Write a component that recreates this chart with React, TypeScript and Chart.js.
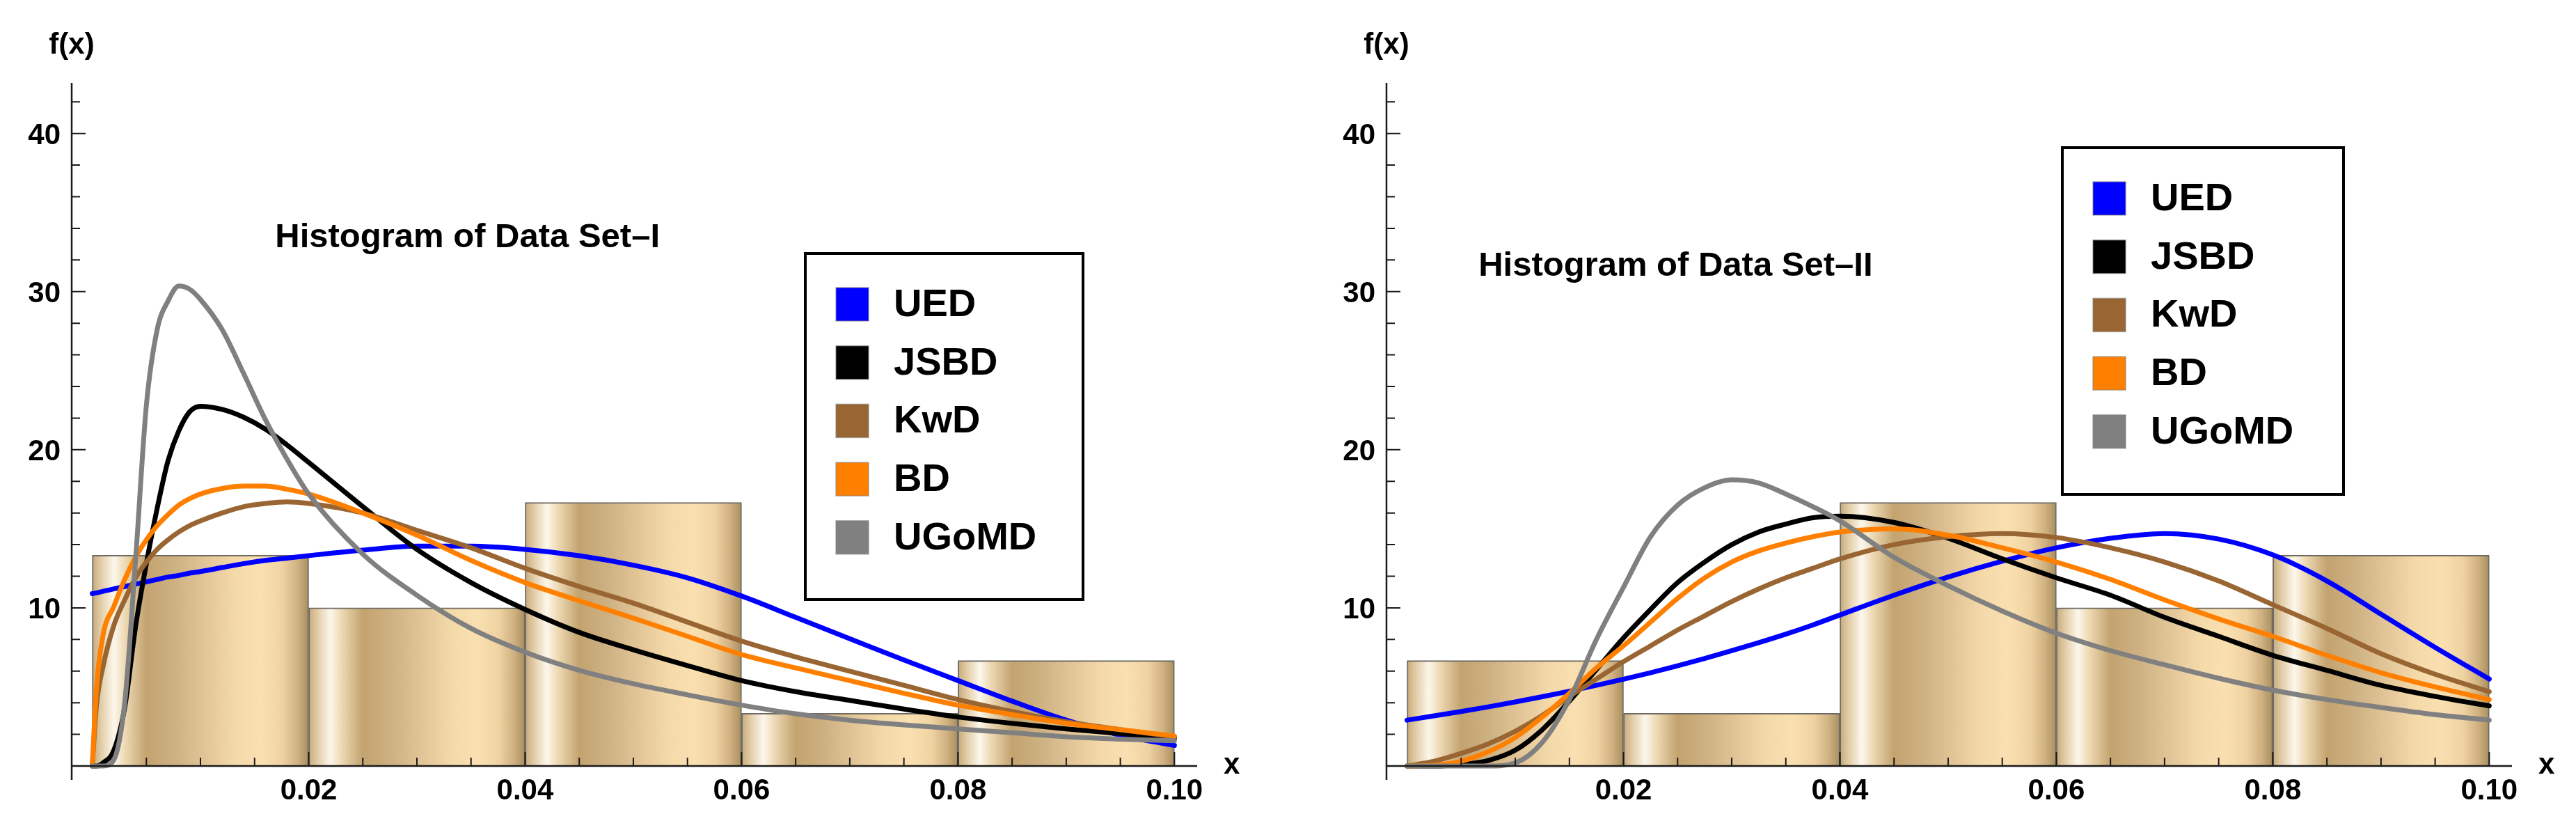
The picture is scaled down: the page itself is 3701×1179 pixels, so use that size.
import { useEffect, useRef } from "react"
import { Chart, registerables } from "chart.js"

Chart.register(...registerables)

// histogram bins (same edges for both data sets)
const binEdges = [0, 0.02, 0.04, 0.06, 0.08, 0.1]
const histHeights1 = [13.33, 10, 16.67, 3.33, 6.67]
const histHeights2 = [6.67, 3.33, 16.67, 10, 13.33]

// fitted densities, Data Set-I
const xs1 = [0, 0.0004, 0.001, 0.002, 0.003, 0.004, 0.005, 0.006, 0.007, 0.008, 0.009, 0.01, 0.012, 0.014, 0.016, 0.018, 0.02, 0.025, 0.03, 0.035, 0.04, 0.045, 0.05, 0.055, 0.06, 0.065, 0.07, 0.075, 0.08, 0.085, 0.09, 0.095, 0.1]
const ued1 = [10.9, 10.95, 11.05, 11.2, 11.35, 11.5, 11.65, 11.8, 11.95, 12.05, 12.2, 12.3, 12.55, 12.8, 13.0, 13.15, 13.3, 13.65, 13.9, 13.9, 13.7, 13.3, 12.7, 11.9, 10.75, 9.4, 8.05, 6.7, 5.4, 4.1, 2.9, 1.95, 1.3]
const jsbd1 = [0, 0, 0.2, 1.0, 3.7, 8.8, 12.8, 16.3, 19.3, 21.2, 22.4, 22.75, 22.55, 22.05, 21.3, 20.3, 19.2, 16.4, 13.7, 11.6, 9.9, 8.45, 7.35, 6.35, 5.4, 4.7, 4.15, 3.6, 3.1, 2.7, 2.35, 2.05, 1.75]
const kwd1 = [0, 3.9, 6.3, 8.9, 10.5, 11.9, 12.9, 13.7, 14.3, 14.8, 15.2, 15.5, 16.0, 16.4, 16.6, 16.7, 16.6, 16.0, 14.9, 13.8, 12.5, 11.35, 10.3, 9.1, 7.9, 6.9, 6.0, 5.1, 4.2, 3.45, 2.8, 2.3, 1.85]
const bd1 = [0, 5.0, 8.3, 10.1, 11.8, 13.2, 14.3, 15.2, 15.9, 16.5, 16.9, 17.2, 17.55, 17.7, 17.7, 17.5, 17.2, 16.0, 14.6, 13.0, 11.6, 10.45, 9.35, 8.2, 7.05, 6.2, 5.4, 4.6, 3.85, 3.25, 2.7, 2.3, 1.9]
const ugomd1 = [0, 0, 0, 0.4, 4.0, 13.0, 22.8, 27.6, 29.4, 30.35, 30.15, 29.5, 27.6, 24.8, 21.9, 19.4, 17.2, 13.4, 10.8, 8.7, 7.2, 6.05, 5.2, 4.5, 3.85, 3.3, 2.9, 2.6, 2.35, 2.1, 1.85, 1.7, 1.6]

// fitted densities, Data Set-II
const xs2 = [0, 0.0025, 0.005, 0.0075, 0.01, 0.0125, 0.015, 0.0175, 0.02, 0.0225, 0.025, 0.0275, 0.03, 0.0325, 0.035, 0.0375, 0.04, 0.045, 0.05, 0.055, 0.06, 0.065, 0.07, 0.075, 0.08, 0.085, 0.09, 0.095, 0.1]
const ued2 = [2.9, 3.17, 3.45, 3.74, 4.05, 4.38, 4.73, 5.1, 5.49, 5.9, 6.34, 6.8, 7.29, 7.8, 8.34, 8.92, 9.55, 10.8, 11.95, 12.95, 13.8, 14.4, 14.7, 14.35, 13.35, 11.7, 9.6, 7.5, 5.5]
const jsbd2 = [0, 0, 0.1, 0.35, 1.0, 2.3, 4.1, 6.1, 8.1, 9.9, 11.6, 12.9, 14.0, 14.8, 15.3, 15.7, 15.8, 15.4, 14.4, 13.1, 11.9, 10.8, 9.4, 8.2, 7.0, 6.05, 5.1, 4.4, 3.8]
const kwd2 = [0, 0.3, 0.8, 1.4, 2.2, 3.2, 4.4, 5.5, 6.6, 7.6, 8.6, 9.5, 10.4, 11.2, 11.9, 12.5, 13.1, 14.0, 14.5, 14.7, 14.45, 13.8, 12.9, 11.7, 10.2, 8.7, 7.1, 5.8, 4.7]
const bd2 = [0, 0.05, 0.3, 0.9, 1.8, 3.1, 4.6, 6.2, 7.6, 9.1, 10.6, 11.9, 12.9, 13.6, 14.1, 14.5, 14.8, 15.0, 14.6, 13.8, 12.9, 11.8, 10.5, 9.3, 8.2, 7.0, 5.9, 5.0, 4.2]
const ugomd2 = [0, 0, 0, 0, 0.2, 1.5, 4.2, 8.0, 11.3, 14.5, 16.5, 17.6, 18.1, 17.9, 17.2, 16.4, 15.5, 13.2, 11.4, 9.8, 8.4, 7.3, 6.4, 5.55, 4.8, 4.2, 3.7, 3.25, 2.9]

const seriesNames = ["UED", "JSBD", "KwD", "BD", "UGoMD"]
const seriesColors = ["#0000ff", "#000000", "#996633", "#ff8000", "#808080"]

const xTickValues = [0.02, 0.04, 0.06, 0.08, 0.1]
const xTickLabels = ["0.02", "0.04", "0.06", "0.08", "0.10"]
const yTickValues = [10, 20, 30, 40]
const yTickLabels = ["10", "20", "30", "40"]

const FONT = '"Liberation Sans", Arial, Helvetica, sans-serif'

// glossy "bar" look: highlight near the left, light peach towards the right
const barStops: [number, string][] = [
  [0, "#c6aa7a"],
  [0.04, "#e2cca6"],
  [0.1, "#fcf7ec"],
  [0.15, "#eedab5"],
  [0.25, "#c3a36f"],
  [0.38, "#ceb182"],
  [0.52, "#e2c597"],
  [0.66, "#f4d9a9"],
  [0.78, "#fae0b1"],
  [0.88, "#efd2a1"],
  [0.95, "#cfb080"],
  [1, "#a88e5e"],
]

const barFill = (c: any) => {
  const xScale = c.chart.scales?.x
  const i = c.dataIndex
  if (!xScale || i == null) return "#e6c995"
  const l = xScale.getPixelForValue(binEdges[i])
  const r = xScale.getPixelForValue(binEdges[i + 1])
  if (!isFinite(l) || !isFinite(r) || r <= l) return "#e6c995"
  const g = c.chart.ctx.createLinearGradient(l, 0, r, 0)
  barStops.forEach(([o, col]) => g.addColorStop(o, col))
  return g
}

type Box = { x: number; y: number; w: number; h: number }

type PanelProps = {
  xs: number[]
  series: number[][]
  heights: number[]
  title: string
  titleAt: [number, number]
  legendBox: Box
  padding: { left: number; right: number; top: number; bottom: number }
}

const axesPlugin = {
  id: "mmaAxes",
  afterDatasetsDraw(chart: any) {
    const { ctx, chartArea, scales } = chart
    const xs = scales.x
    const ys = scales.y
    const ax = chartArea.left
    const ay = ys.getPixelForValue(0)
    ctx.save()
    ctx.strokeStyle = "#1a1a1a"
    ctx.lineWidth = 2.5
    ctx.beginPath()
    ctx.moveTo(ax, chartArea.top)
    ctx.lineTo(ax, chartArea.bottom)
    ctx.moveTo(ax, ay)
    ctx.lineTo(chartArea.right, ay)
    ctx.stroke()

    ctx.lineWidth = 2
    ctx.beginPath()
    for (let k = 1; k <= 20; k++) {
      const px = xs.getPixelForValue(k * 0.005)
      const len = k % 4 === 0 ? 20 : 12
      ctx.moveTo(px, ay)
      ctx.lineTo(px, ay - len)
    }
    for (let k = 1; k <= 21; k++) {
      const py = ys.getPixelForValue(k * 2)
      const len = (k * 2) % 10 === 0 ? 20 : 12
      ctx.moveTo(ax, py)
      ctx.lineTo(ax + len, py)
    }
    ctx.stroke()

    ctx.fillStyle = "#000"
    ctx.font = `bold 42px ${FONT}`
    ctx.textAlign = "center"
    ctx.textBaseline = "alphabetic"
    xTickValues.forEach((v, i) => {
      ctx.fillText(xTickLabels[i], xs.getPixelForValue(v), ay + 48)
    })
    ctx.textAlign = "right"
    yTickValues.forEach((v, i) => {
      ctx.fillText(yTickLabels[i], ax - 16, ys.getPixelForValue(v) + 15)
    })

    // axis labels
    ctx.textAlign = "center"
    ctx.textBaseline = "middle"
    ctx.fillText("f(x)", ax, 65)
    ctx.textAlign = "left"
    ctx.textBaseline = "alphabetic"
    ctx.fillText("x", chartArea.right + 38, ay + 11)
    ctx.restore()
  },
}

const legendPlugin = {
  id: "mmaLegend",
  afterDraw(chart: any, _args: any, opts: any) {
    const { ctx, scales } = chart
    const box: Box = opts.box
    ctx.save()
    // title placed in data coordinates
    ctx.fillStyle = "#000"
    ctx.font = `bold 49px ${FONT}`
    ctx.textAlign = "left"
    ctx.textBaseline = "alphabetic"
    ctx.fillText(opts.title, scales.x.getPixelForValue(opts.titleAt[0]), scales.y.getPixelForValue(opts.titleAt[1]))

    ctx.fillStyle = "#fff"
    ctx.fillRect(box.x, box.y, box.w, box.h)
    ctx.strokeStyle = "#000"
    ctx.lineWidth = 4
    ctx.strokeRect(box.x + 2, box.y + 2, box.w - 4, box.h - 4)

    ctx.font = `bold 56px ${FONT}`
    const lines = chart.data.datasets.filter((d: any) => d.type === "line")
    lines.forEach((d: any, i: number) => {
      const sy = box.y + 51 + i * 83.7
      const sx = box.x + 46
      ctx.fillStyle = d.borderColor
      ctx.fillRect(sx, sy, 47, 48)
      ctx.strokeStyle = "rgba(130,130,130,0.6)"
      ctx.lineWidth = 1.5
      ctx.strokeRect(sx, sy, 47, 48)
      ctx.fillStyle = "#000"
      ctx.fillText(d.label, box.x + 129, sy + 41)
    })
    ctx.restore()
  },
}

function HistogramPanel({ xs, series, heights, title, titleAt, legendBox, padding }: PanelProps) {
  const chartRef = useRef<HTMLCanvasElement>(null)
  const chartInstance = useRef<Chart | null>(null)

  useEffect(() => {
    if (!chartRef.current) return
    if (chartInstance.current) chartInstance.current.destroy()
    const ctx = chartRef.current.getContext("2d")
    if (!ctx) return

    const barData = heights.map((h, i) => ({ x: (binEdges[i] + binEdges[i + 1]) / 2, y: h }))
    const lineSets = series.map((vals, s) => ({
      type: "line" as const,
      label: seriesNames[s],
      data: xs.map((x, i) => ({ x, y: vals[i] })),
      borderColor: seriesColors[s],
      backgroundColor: seriesColors[s],
      borderWidth: 7,
      pointRadius: 0,
      cubicInterpolationMode: "monotone" as const,
      borderCapStyle: "round" as const,
      borderJoinStyle: "round" as const,
      fill: false,
      order: 5 - s,
    }))

    chartInstance.current = new Chart(ctx, {
      type: "line",
      data: {
        datasets: [
          {
            type: "bar",
            label: "hist",
            data: barData,
            backgroundColor: barFill,
            borderColor: "#6e6a62",
            borderWidth: 2,
            barPercentage: 1,
            categoryPercentage: 1,
            grouped: false,
            order: 10,
          } as any,
          ...lineSets,
        ],
      },
      options: {
        animation: false,
        responsive: true,
        maintainAspectRatio: false,
        devicePixelRatio: 1,
        events: [],
        layout: { padding },
        scales: {
          x: {
            type: "linear",
            display: false,
            min: -0.0019,
            max: 0.1021,
            offset: false,
            afterBuildTicks: (scale: any) => {
              scale.ticks = binEdges.map((v) => ({ value: v }))
            },
          },
          y: {
            type: "linear",
            display: false,
            min: -0.88,
            max: 43.2,
          },
        },
        plugins: {
          legend: { display: false },
          tooltip: { enabled: false },
          mmaLegend: { box: legendBox, title, titleAt },
        } as any,
      },
      plugins: [axesPlugin, legendPlugin],
    })

    return () => {
      if (chartInstance.current) {
        chartInstance.current.destroy()
        chartInstance.current = null
      }
    }
  }, [])

  return <canvas ref={chartRef} style={{ display: "block" }}></canvas>
}

export default function App() {
  return (
    <div style={{ position: "fixed", left: 0, top: 0, width: 3701, height: 1179, background: "#fff", overflow: "hidden" }}>
      <div style={{ position: "absolute", left: 0, top: 0, width: 1850, height: 1179 }}>
        <HistogramPanel
          xs={xs1}
          series={[ued1, jsbd1, kwd1, bd1, ugomd1]}
          heights={histHeights1}
          title="Histogram of Data Set–I"
          titleAt={[0.0169, 32.8]}
          legendBox={{ x: 1155, y: 362, w: 403, h: 501 }}
          padding={{ left: 103, right: 130, top: 119, bottom: 59 }}
        />
      </div>
      <div style={{ position: "absolute", left: 1850, top: 0, width: 1851, height: 1179 }}>
        <HistogramPanel
          xs={xs2}
          series={[ued2, jsbd2, kwd2, bd2, ugomd2]}
          heights={histHeights2}
          title="Histogram of Data Set–II"
          titleAt={[0.0066, 31.0]}
          legendBox={{ x: 1111, y: 210, w: 408, h: 502 }}
          padding={{ left: 142, right: 92, top: 119, bottom: 59 }}
        />
      </div>
    </div>
  )
}
